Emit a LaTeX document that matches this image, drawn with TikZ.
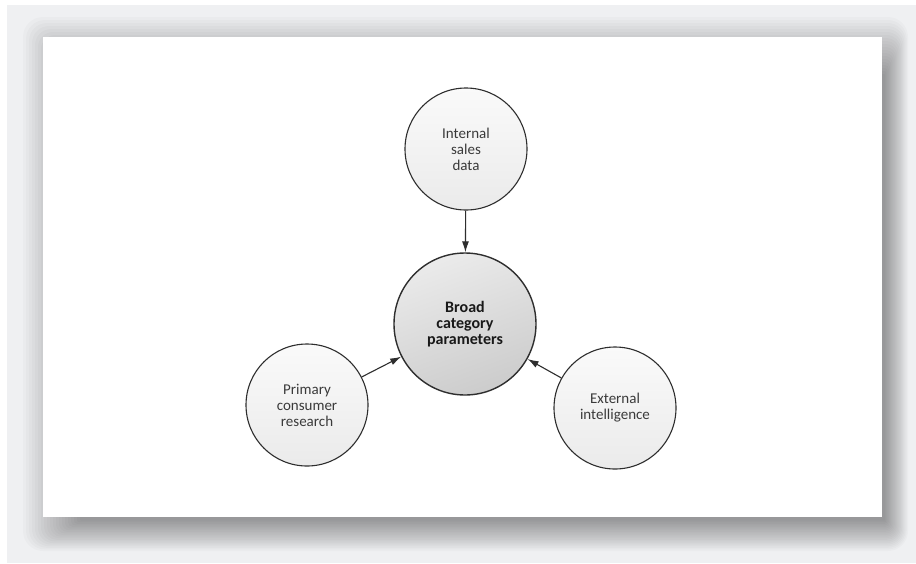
\documentclass[tikz,border=0pt]{standalone}
\usepackage{fontspec}
\setmainfont{Carlito}
\usetikzlibrary{positioning,arrows.meta}
\definecolor{pagegray}{HTML}{EFF0F2}
\definecolor{rimgray}{HTML}{2E2E2E}
\definecolor{inkgray}{HTML}{3A3A3A}

\begin{document}
\begin{tikzpicture}[x=1pt,y=-1pt,
 every node/.style={font=\fontsize{15}{16}\selectfont,align=center,text=inkgray},
 src/.style={circle,draw=rimgray,line width=1.1pt,minimum size=122pt,inner sep=0pt,
   top color=black!2,bottom color=black!8},
 hub/.style={circle,draw=rimgray,line width=1.4pt,minimum size=142pt,inner sep=0pt,
   top color=black!8,bottom color=black!20,shading angle=20,
   font=\fontsize{16}{16}\selectfont\bfseries,text=black!90},
 feed/.style={draw=rimgray,line width=1.1pt,-{Latex[length=11pt,width=7pt]}}]
\useasboundingbox (0,0) rectangle (916,563);
\fill[pagegray] (7,5) rectangle (916,563);
% soft shadow under the white panel, heavier to the lower right
\foreach \k in {1,...,20}
  \fill[black,opacity=0.018,rounded corners=\k pt]
    (83-3*\k,77-3*\k) rectangle (884+1.2*\k,519+1.6*\k);
\fill[white] (43,37) rectangle (882,517);
\node[hub] (cat) at (465,324) {Broad\\category\\parameters};
\node[src] (sales) at (466,149) {Internal\\sales\\data};
\node[src] (survey) at (307,405) {Primary\\consumer\\research};
\node[src] (intel) at (615,408) {External\\intelligence};
\draw[feed] (sales) -- (cat);
\draw[feed] (survey) -- (cat);
\draw[feed] (intel) -- (cat);
\end{tikzpicture}
\end{document}
